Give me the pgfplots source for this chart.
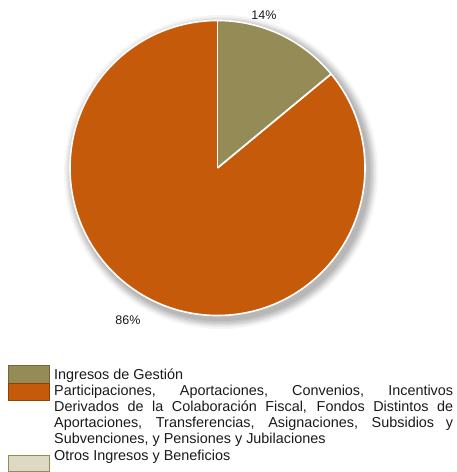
\documentclass[border=0pt]{standalone}
\usepackage{fontspec}
\setmainfont{Liberation Sans}
\usepackage{pgfplots}
\usepackage{pgfplotstable}
\pgfplotsset{compat=1.18}
\definecolor{olivec}{HTML}{958B56}
\definecolor{olivedk}{HTML}{6E6640}
\definecolor{orangec}{HTML}{C55A0B}
\definecolor{orangedk}{HTML}{8E4008}
\definecolor{beigec}{HTML}{DDD9C3}
\definecolor{txt}{HTML}{1A1A1A}
\pgfplotstableread{
id value
1 14
2 86
3 0
}\piedata
\pgfplotstablegetelem{0}{value}\of\piedata \let\va\pgfplotsretval
\pgfplotstablegetelem{1}{value}\of\piedata \let\vb\pgfplotsretval
\pgfmathsetmacro{\angA}{90-3.6*\va}
\begin{document}
\begin{tikzpicture}
\begin{axis}[
  scale only axis, x=1pt, y=1pt,
  xmin=0, xmax=456, ymin=0, ymax=472,
  hide axis, clip=false,
]
\path (axis cs:0,0) rectangle (axis cs:456,472);
% soft shadow
\fill[black, opacity=0.06] (axis cs:221,300) circle[radius=149pt];
\fill[black, opacity=0.06] (axis cs:221,300) circle[radius=150.5pt];
\fill[black, opacity=0.06] (axis cs:221,300) circle[radius=152pt];
\fill[black, opacity=0.06] (axis cs:221,300) circle[radius=153.5pt];
\fill[black, opacity=0.05] (axis cs:221,300) circle[radius=155pt];
\fill[black, opacity=0.04] (axis cs:221,300) circle[radius=157pt];
% slices
\fill[orangec] (axis cs:217.5,304) -- ++(\angA:147.5pt) arc[start angle=\angA, end angle=-270, radius=147.5pt] -- cycle;
\fill[olivec] (axis cs:217.5,304) -- ++(90:147.5pt) arc[start angle=90, end angle=\angA, radius=147.5pt] -- cycle;
\draw[white, line width=1.6pt] (axis cs:217.5,304) circle[radius=147.5pt];
\draw[white, line width=1.8pt] (axis cs:217.5,304) -- ++(90:147.5pt);
\draw[white, line width=1.8pt] (axis cs:217.5,304) -- ++(\angA:147.5pt);
% data labels
\node[txt, font=\fontsize{12.5}{14}\selectfont] at (axis cs:264,457) {\va\%};
\node[txt, font=\fontsize{12.5}{14}\selectfont] at (axis cs:128,151.5) {\vb\%};
% legend
\filldraw[fill=olivec, draw=olivedk, line width=0.8pt] (axis cs:8.5,89) rectangle (axis cs:49.5,106.5);
\filldraw[fill=orangec, draw=orangedk, line width=0.8pt] (axis cs:8.5,71.5) rectangle (axis cs:49.5,89);
\filldraw[fill=beigec, draw=olivec, line width=0.8pt] (axis cs:8.5,1) rectangle (axis cs:49.5,17);
\node[txt, anchor=base west, inner sep=0pt, font=\fontsize{14.4}{16}\selectfont] at (axis cs:54,92) {Ingresos de Gestión};
\node[txt, anchor=base west, inner sep=0pt, font=\fontsize{14.4}{16}\selectfont] at (axis cs:54,76) {\parbox[t]{399pt}{\hyphenpenalty=10000\parindent=0pt Participaciones, Aportaciones, Convenios, Incentivos\linebreak Derivados de la Colaboración Fiscal, Fondos Distintos de\linebreak Aportaciones, Transferencias, Asignaciones, Subsidios y\linebreak Subvenciones, y Pensiones y Jubilaciones}};
\node[txt, anchor=base west, inner sep=0pt, font=\fontsize{14.4}{16}\selectfont] at (axis cs:54,12) {Otros Ingresos y Beneficios};
\end{axis}
\end{tikzpicture}
\end{document}
